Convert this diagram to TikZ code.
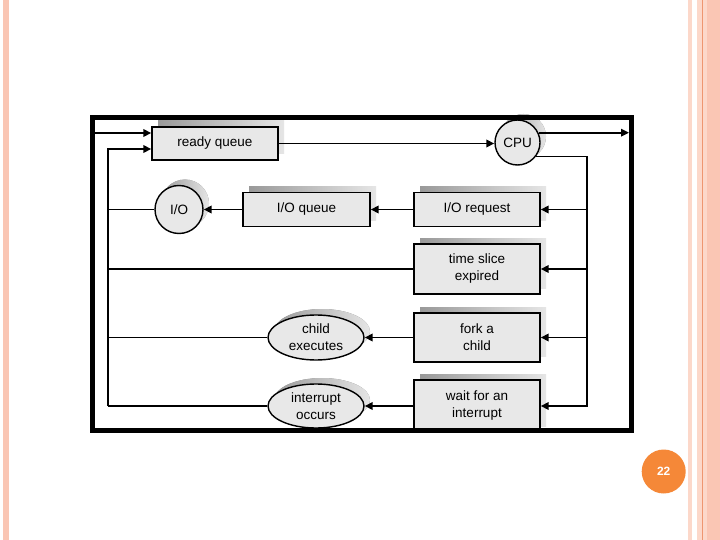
\documentclass[tikz,border=0pt]{standalone}
\usepackage{fontspec}
\setmainfont{Liberation Sans}
\usepackage{xcolor}
\usepackage{tikz}
\usetikzlibrary{arrows.meta,shapes.geometric,shadows}

\definecolor{stripepink}{RGB}{250,198,180}
\definecolor{stripelight}{RGB}{252,216,202}
\definecolor{stripeline}{RGB}{238,150,112}
\definecolor{pageorange}{RGB}{245,136,56}
\definecolor{boxgray}{RGB}{232,232,232}

\begin{document}
\begin{tikzpicture}[x=1pt,y=-1pt,
  conn/.style={line width=1.8pt},
  arr/.style={conn,-{Triangle[length=8pt,width=7.5pt]}},
  shd/.style={drop shadow={shadow xshift=6pt,shadow yshift=6pt,opacity=1,left color=gray!80,right color=gray!20}},
  qbox/.style={draw,line width=1.4pt,fill=boxgray,shd,minimum width=126pt,align=center,
    font=\fontsize{13.5}{17}\selectfont},
  cbox/.style={circle,draw,line width=1.4pt,fill=boxgray,shd,inner sep=0pt,
    font=\fontsize{13.5}{17}\selectfont},
  ebox/.style={ellipse,draw,line width=1.4pt,fill=boxgray,shd,inner sep=0pt,
    minimum width=96pt,minimum height=45pt,align=center,font=\fontsize{13.5}{17}\selectfont}]
\useasboundingbox (0,0) rectangle (720,540);
\fill[white] (0,0) rectangle (720,540);
% slide stripes
\fill[stripepink] (3,0) rectangle (9,540);
\fill[stripelight] (688,0) rectangle (692,540);
\fill[stripelight] (696.5,0) rectangle (707,540);
\fill[stripepink] (707,0) rectangle (720,540);
\draw[stripeline,line width=1pt] (702.5,0) -- (702.5,540);

% queues and states
\node[qbox,minimum height=33pt] (rq) at (215,143.5) {ready queue};
\node[cbox,minimum size=45pt] (cpu) at (517.5,142.5) {CPU};
\node[cbox,minimum size=48pt] (io) at (179,209.5) {I/O};
\node[qbox,minimum width=127pt,minimum height=34pt] (ioq) at (306.5,209.5) {I/O queue};
\node[qbox,minimum height=34pt] (ioreq) at (477,209.5) {I/O request};
\node[qbox,minimum height=50pt] (ts) at (477,269) {time slice\\expired};
\node[qbox,minimum height=49pt] (fork) at (477,337.5) {fork a\\child};
\node[qbox,minimum height=52pt] (wait) at (477,406) {wait for an\\interrupt};
\node[ebox] (ce) at (316,337.5) {child\\executes};
\node[ebox,minimum height=44pt] (ic) at (316,406) {interrupt\\occurs};

% left loop back to the ready queue
\coordinate (inA) at (95,133);
\coordinate (lt) at (108,149);
\coordinate (lb) at (108,406);
\draw[arr] (inA) -- (inA -| rq.west);
\draw[arr] (lb) -- (lt) -- (lt -| rq.west);
\draw[conn] (io.west) -- (io.west -| lt);
\draw[conn] (ts.west) -- (ts.west -| lt);
\draw[conn] (ce.west) -- (ce.west -| lt);
\draw[conn] (ic.west) -- (lb);

% cpu
\coordinate (out) at (629,133);
\coordinate (rx) at (587,156);
\draw[arr] (rq.east) -- (rq.east -| cpu.west);
\draw[arr] (cpu.25) -- (cpu.25 -| out);
\draw[arr] (cpu.-37) -- (cpu.-37 -| rx) -- (rx |- wait.east) -- (wait.east);
\draw[arr] (rx |- ioreq.east) -- (ioreq.east);
\draw[arr] (rx |- ts.east) -- (ts.east);
\draw[arr] (rx |- fork.east) -- (fork.east);

% to the waiting states
\draw[arr] (ioreq.west) -- (ioq.east);
\draw[arr] (ioq.west) -- (io.east);
\draw[arr] (fork.west) -- (ce.east);
\draw[arr] (wait.west) -- (ic.east);

% frame
\draw[line width=5pt] (92.5,117.5) rectangle (631.5,430.5);

% page number
\node[circle,fill=pageorange,minimum size=44pt,text=white,
  font=\fontsize{12}{14}\selectfont\bfseries] (pg) at (663.7,471.5) {22};
\end{tikzpicture}
\end{document}
